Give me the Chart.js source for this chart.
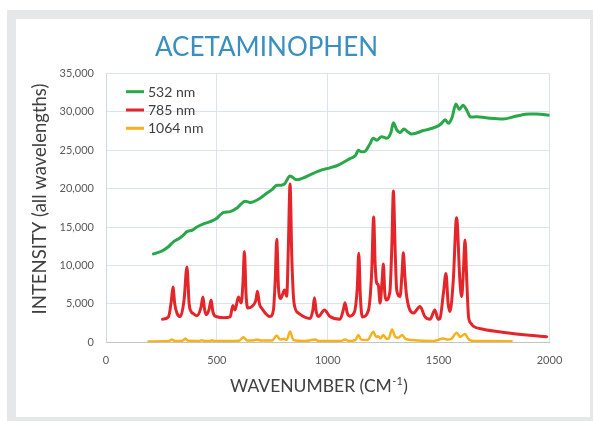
<!DOCTYPE html>
<html>
<head>
<meta charset="utf-8">
<script src="https://cdn.jsdelivr.net/npm/chart.js@4.4.0/dist/chart.umd.min.js"></script>
<style>
  html, body { margin: 0; padding: 0; background: #ffffff; }
  #frame { position: absolute; left: 7px; top: 10px; width: 586px; height: 411px; background: #e6e7e8; }
  #card { position: absolute; left: 16px; top: 19px; width: 574px; height: 398px; background: #ffffff; }
  #c { position: absolute; left: 0; top: 0; }
</style>
</head>
<body>
<div id="frame"></div>
<div id="card"></div>
<canvas id="c" width="593" height="421"></canvas>
<script>
const chartTitle = "ACETAMINOPHEN";
const yTitle = "INTENSITY (all wavelengths)";
const xTitleMain = "WAVENUMBER (CM";
const xTitleSup = "-1";
const xTitleEnd = ")";
const seriesNames = ["532 nm", "785 nm", "1064 nm"];
const xTicks = [0, 500, 1000, 1500, 2000];
const yTicks = [0, 5000, 10000, 15000, 20000, 25000, 30000, 35000];

const greenX = [214,250,280,305,330,350,365,390,410,440,470,500,515,530,560,590,628,650,695,725,750,770,790,805,830,860,890,920,973,1010,1050,1100,1125,1138,1150,1165,1190,1205,1220,1243,1266,1285,1296,1310,1326,1344,1360,1379,1431,1491,1514,1529,1544,1560,1578,1593,1610,1625,1645,1671,1731,1791,1852,1911,1942,1998];
const greenY = [11500,11850,12400,13100,13500,13970,14400,14600,15000,15400,15700,16150,16575,16900,17000,17450,18350,18200,18750,19400,19900,20450,20450,20600,21650,21150,21400,21800,22430,22700,23100,23900,24300,25000,24800,24800,25800,26550,26300,26750,26550,27300,28550,27700,27300,27750,27400,27100,27550,28050,28500,28950,28500,29200,31000,30300,30850,30300,29300,29350,29150,29050,29450,29700,29700,29550];

const redX = [255,282,295,302,310,320,335,352,365,375,384,395,410,428,437,445,452,465,474,482,492,530,560,572,582,597,610,618,624,632,640,658,676,683,692,703,740,755,763,770,778,788,805,815,822,830,838,848,868,920,933,940,948,958,985,1010,1055,1070,1078,1088,1100,1120,1133,1140,1147,1156,1183,1198,1207,1214,1221,1228,1236,1245,1251,1257,1263,1280,1289,1296,1304,1311,1326,1335,1341,1348,1356,1386,1416,1438,1461,1483,1498,1506,1522,1533,1543,1551,1566,1581,1596,1604,1612,1619,1627,1635,1645,1656,1701,1806,1897,1987];
const redY = [3000,3330,5500,7200,5000,3800,3350,5500,9800,5000,4000,3700,3450,4500,5900,4200,3600,4300,5500,4000,3400,3200,3300,4800,4200,5900,5100,8000,11800,6000,4450,4650,5500,6650,5000,4400,3350,4200,8000,13400,7000,5700,6800,6000,12000,20600,11000,5100,3800,3100,4200,5800,4000,3350,4200,3350,3000,4200,5150,3800,3400,3900,7000,11600,6000,3300,4100,9000,16300,10000,7700,7450,5100,8000,10200,6500,5500,6500,12500,19700,12000,6800,5950,9000,11650,8500,5950,3800,4650,3350,3000,4200,3000,3100,6500,8950,5000,4000,8000,16200,8000,5950,9500,13300,8000,3300,2500,2100,1700,1250,950,730];

const orangeX = [192,260,285,297,310,345,357,370,420,432,445,470,477,490,560,600,620,635,665,680,700,750,770,785,800,815,830,845,900,943,960,1060,1078,1095,1125,1138,1150,1180,1206,1218,1228,1238,1251,1265,1275,1290,1305,1318,1336,1350,1380,1430,1480,1521,1540,1560,1581,1598,1619,1635,1660,1700,1829];
const orangeY = [100,150,180,350,170,200,480,200,180,280,170,170,260,160,170,200,650,250,230,380,220,250,900,350,450,300,1400,300,180,350,160,160,380,170,300,950,350,300,1380,700,800,500,950,450,500,1650,700,600,950,450,300,200,180,500,350,500,1250,700,1080,400,180,160,150];

const colors = ["#2aa748", "#e4262a", "#f5b21d"];

function pts(xs, ys) { return xs.map((x, i) => ({ x: x, y: ys[i] })); }

const FONT = "Lato, 'Open Sans', sans-serif";

const textPlugin = {
  id: 'texts',
  afterDatasetsDraw(chart) {
    const ctx = chart.ctx;
    ctx.save();
    // Title
    ctx.fillStyle = "#3a8fc1";
    ctx.font = "26px " + FONT;
    ctx.textAlign = "center";
    ctx.textBaseline = "alphabetic";
    ctx.fillText(chartTitle, 266.5, 56);
    // Y title
    ctx.save();
    ctx.translate(40.5, 199);
    ctx.rotate(-Math.PI / 2);
    ctx.fillStyle = "#404040";
    ctx.font = "18.5px " + FONT;
    ctx.textAlign = "center";
    ctx.textBaseline = "middle";
    ctx.fillText(yTitle, 0, 0);
    ctx.restore();
    // X title with superscript
    ctx.fillStyle = "#404040";
    ctx.textAlign = "left";
    ctx.textBaseline = "alphabetic";
    const big = "17.5px " + FONT, small = "11px " + FONT;
    ctx.font = big;
    const w1 = ctx.measureText(xTitleMain).width;
    const w3 = ctx.measureText(xTitleEnd).width;
    ctx.font = small;
    const w2 = ctx.measureText(xTitleSup).width;
    const total = w1 + w2 + w3 + 1;
    let x0 = 319 - total / 2;
    ctx.font = big;
    ctx.fillText(xTitleMain, x0, 392);
    ctx.font = small;
    ctx.fillText(xTitleSup, x0 + w1 + 0.5, 385);
    ctx.font = big;
    ctx.fillText(xTitleEnd, x0 + w1 + w2 + 1, 392);
    // Legend
    const rows = [91.7, 110, 128.3];
    ctx.font = "14px " + FONT;
    ctx.textBaseline = "middle";
    chart.data.datasets.forEach((ds, i) => {
      ctx.strokeStyle = ds.borderColor;
      ctx.lineWidth = 3;
      ctx.beginPath();
      ctx.moveTo(126, rows[i]);
      ctx.lineTo(144, rows[i]);
      ctx.stroke();
      ctx.fillStyle = "#404040";
      ctx.fillText(ds.label, 148, rows[i] + 0.5);
    });
    ctx.restore();
  }
};

new Chart(document.getElementById('c'), {
  type: 'line',
  data: {
    datasets: [
      { label: seriesNames[0], data: pts(greenX, greenY), borderColor: colors[0], borderWidth: 3 },
      { label: seriesNames[1], data: pts(redX, redY), borderColor: colors[1], borderWidth: 3 },
      { label: seriesNames[2], data: pts(orangeX, orangeY), borderColor: colors[2], borderWidth: 2.5 }
    ]
  },
  options: {
    responsive: false,
    animation: false,
    devicePixelRatio: 1,
    layout: { padding: { left: 0, right: 43.5, top: 73.3, bottom: 48.7 } },
    elements: {
      point: { radius: 0 },
      line: { cubicInterpolationMode: 'monotone', fill: false, borderCapStyle: 'round', borderJoinStyle: 'round' }
    },
    plugins: { legend: { display: false }, title: { display: false }, tooltip: { enabled: false } },
    scales: {
      x: {
        type: 'linear',
        min: xTicks[0], max: xTicks[xTicks.length - 1],
        afterBuildTicks(s) { s.ticks = xTicks.map(v => ({ value: v })); },
        afterFit(s) { s.height = 30; },
        ticks: { padding: 12, autoSkip: false, maxRotation: 0, color: "#595959", font: { family: FONT, size: 11 }, callback: v => String(v) },
        grid: { color: "#dbe4ee", lineWidth: 1, drawTicks: false },
        border: { color: "#c4c4c4", width: 1 }
      },
      y: {
        type: 'linear',
        min: yTicks[0], max: yTicks[yTicks.length - 1],
        afterBuildTicks(s) { s.ticks = yTicks.map(v => ({ value: v })); },
        afterFit(s) { s.width = 106; },
        ticks: { padding: 12, color: "#595959", font: { family: FONT, size: 11 }, callback: v => v.toLocaleString('en-US') },
        grid: { color: "#dbe4ee", lineWidth: 1, drawTicks: false },
        border: { color: "#cfd8e2", width: 1 }
      }
    }
  },
  plugins: [textPlugin]
});
</script>
</body>
</html>
